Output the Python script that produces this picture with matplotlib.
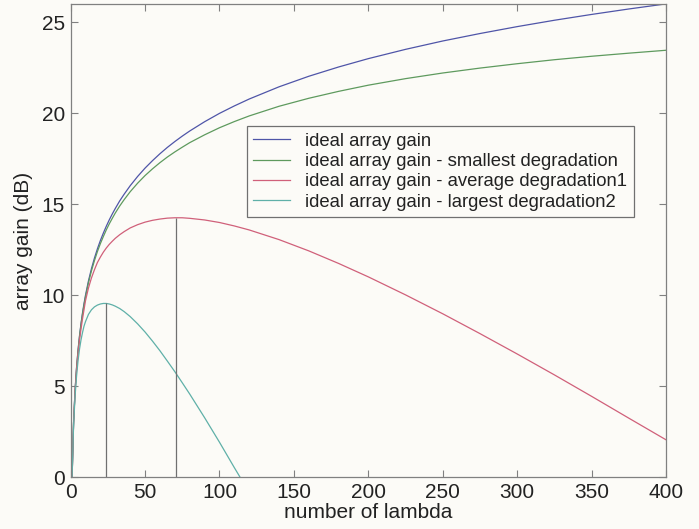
import matplotlib
matplotlib.use("Agg")
import matplotlib.pyplot as plt

plt.rcParams['font.family'] = ['Liberation Sans', 'DejaVu Sans']

# number of lambda (x positions where values were read)
n_lambda = [1, 2, 3, 4, 5, 6, 7, 8, 9, 10, 12, 14, 16, 18, 20, 22, 24, 26, 28, 30,
            33, 36, 40, 45, 50, 55, 60, 65, 70, 75, 80, 90, 100, 110, 120, 140,
            160, 180, 200, 225, 250, 275, 300, 325, 350, 375, 400]

ideal = [0, 3.01, 4.77, 6.02, 6.99, 7.78, 8.45, 9.03, 9.54, 10.0, 10.79, 11.46,
         12.04, 12.55, 13.01, 13.42, 13.80, 14.15, 14.47, 14.77, 15.19, 15.56,
         16.02, 16.53, 16.99, 17.40, 17.78, 18.13, 18.45, 18.75, 19.03, 19.54,
         20.0, 20.41, 20.79, 21.46, 22.04, 22.55, 23.01, 23.52, 23.98, 24.39,
         24.77, 25.12, 25.44, 25.74, 26.02]

smallest = [0, 2.99, 4.74, 5.99, 6.95, 7.73, 8.39, 8.96, 9.46, 9.91, 10.69, 11.34,
            11.90, 12.40, 12.84, 13.23, 13.60, 13.93, 14.23, 14.52, 14.91, 15.26,
            15.69, 16.16, 16.58, 16.95, 17.29, 17.60, 17.88, 18.14, 18.39, 18.82,
            19.21, 19.55, 19.86, 20.39, 20.83, 21.21, 21.55, 21.91, 22.22, 22.49,
            22.73, 22.95, 23.14, 23.31, 23.47]

average = [0, 3.0, 4.7, 5.9, 6.8, 7.55, 8.15, 8.7, 9.2, 9.7, 10.4, 10.95, 11.4,
           11.8, 12.1, 12.37, 12.6, 12.8, 12.97, 13.13, 13.33, 13.5, 13.7, 13.88,
           14.02, 14.12, 14.19, 14.24, 14.26, 14.26, 14.23, 14.14, 14.0, 13.81,
           13.59, 13.06, 12.44, 11.75, 11.01, 10.02, 8.98, 7.89, 6.77, 5.62, 4.44,
           3.24, 2.05]

n_lambda_large = [1, 2, 3, 4, 5, 6, 7, 8, 9, 10, 12, 14, 16, 18, 20, 22, 24, 26,
                  28, 30, 33, 36, 40, 45, 50, 55, 60, 65, 70, 75, 80, 90, 100, 110,
                  113.8]
largest = [0, 2.85, 4.45, 5.55, 6.4, 7.05, 7.55, 7.95, 8.3, 8.55, 8.95, 9.2, 9.36,
           9.46, 9.52, 9.55, 9.55, 9.52, 9.47, 9.4, 9.27, 9.1, 8.83, 8.43, 7.98,
           7.48, 6.95, 6.38, 5.8, 5.19, 4.57, 3.27, 1.92, 0.52, 0.0]

# optimum markers (x position, peak gain)
peak_x = [23.5, 71]
peak_y = [9.55, 14.26]

labels = ['ideal array gain',
          'ideal array gain - smallest degradation',
          'ideal array gain - average degradation1',
          'ideal array gain - largest degradation2']
colors = ['#4f55a8', '#5e9a5e', '#d0607a', '#5fb0a8']

bg = '#fcfbf7'
fig = plt.figure(figsize=(6.99, 5.29), dpi=100, facecolor=bg)
ax = fig.add_axes([0.101, 0.098, 0.852, 0.894], facecolor=bg)

ax.plot(n_lambda, ideal, color=colors[0], lw=0.9, label=labels[0])
ax.plot(n_lambda, smallest, color=colors[1], lw=0.9, label=labels[1])
ax.plot(n_lambda, average, color=colors[2], lw=0.9, label=labels[2])
ax.plot(n_lambda_large, largest, color=colors[3], lw=0.9, label=labels[3])

ax.vlines(peak_x, 0, peak_y, color='#707070', lw=0.9)

ax.set_xlim(0, 400)
ax.set_ylim(0, 26)
ax.set_xticks(range(0, 401, 50))
ax.set_yticks(range(0, 26, 5))
ax.tick_params(direction='in', top=True, right=True, length=5, width=0.8,
               colors='#808080', labelcolor='#222222', labelsize=15, pad=4)
for s in ax.spines.values():
    s.set_color('#808080')
    s.set_linewidth(0.9)

ax.set_xlabel('number of lambda', fontsize=15, color='#222222', labelpad=1)
ax.set_ylabel('array gain (dB)', fontsize=15, color='#222222', labelpad=6)

leg = ax.legend(loc='upper left', bbox_to_anchor=(0.296, 0.742), fontsize=13.3,
                frameon=True, fancybox=False, framealpha=1, handlelength=2.0,
                borderpad=0.35, labelspacing=0.18, handletextpad=0.8,
                borderaxespad=0)
leg.get_frame().set_edgecolor('#707070')
leg.get_frame().set_facecolor(bg)
leg.get_frame().set_linewidth(0.9)
for t in leg.get_texts():
    t.set_color('#222222')

fig.savefig('out.png', dpi=100, facecolor=bg)
